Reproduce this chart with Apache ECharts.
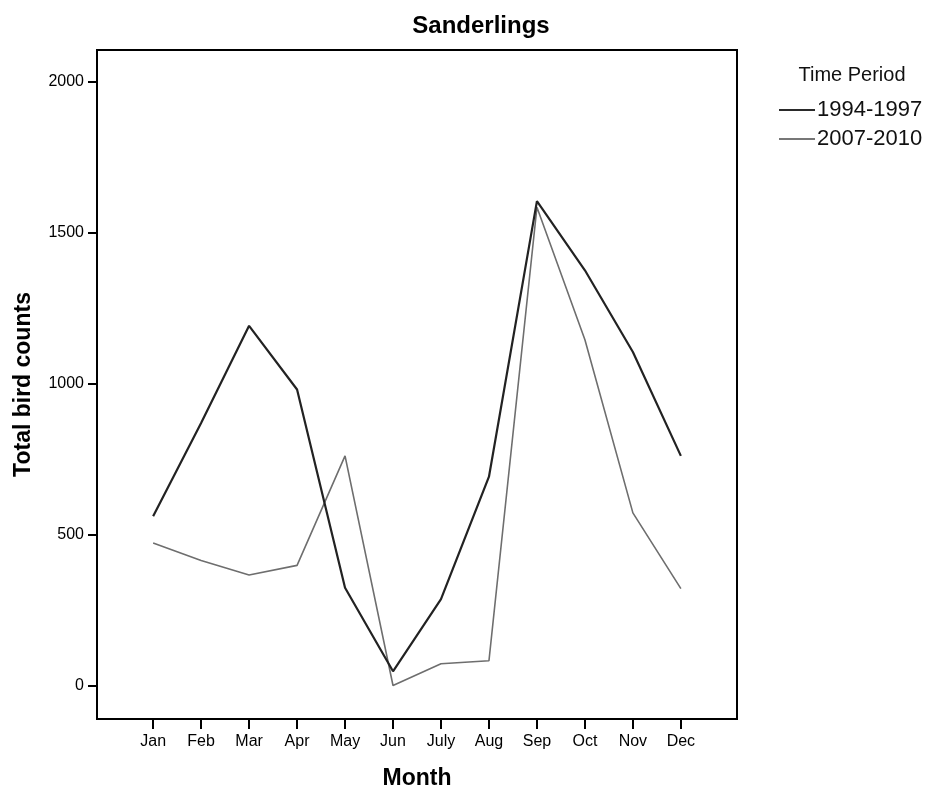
<!DOCTYPE html>
<html>
<head>
<meta charset="utf-8">
<title>Sanderlings</title>
<script src="https://cdn.jsdelivr.net/npm/echarts@6/dist/echarts.min.js"></script>
<style>
  html, body { margin: 0; padding: 0; background: #fff; }
  #chart { width: 930px; height: 795px; }
</style>
</head>
<body>
<div id="chart"></div>
<script>
// Monthly sanderling totals for two survey periods
const months = ['Jan', 'Feb', 'Mar', 'Apr', 'May', 'Jun', 'July', 'Aug', 'Sep', 'Oct', 'Nov', 'Dec'];
const period1Name = '1994-1997';
const period2Name = '2007-2010';
const period1Counts = [561, 870, 1192, 981, 324, 47, 286, 692, 1605, 1376, 1105, 761];
const period2Counts = [472, 414, 366, 398, 761, 0, 72, 82, 1585, 1146, 572, 321];
const yTicks = [0, 500, 1000, 1500, 2000];

const FONT = '"Liberation Sans", Arial, sans-serif';

const toPoints = vals => vals.map((v, i) => [i, v]);
const monthIndex = months.map((_, i) => i);

const chart = echarts.init(document.getElementById('chart'), null, { renderer: 'canvas' });

chart.setOption({
  backgroundColor: '#ffffff',
  animation: false,
  title: [
    {
      text: 'Sanderlings',
      left: 476, top: 9, textAlign: 'center',
      textStyle: { fontFamily: FONT, fontSize: 24, fontWeight: 'bold', color: '#000' }
    },
    {
      text: 'Time Period',
      left: 847, top: 60, textAlign: 'center',
      textStyle: { fontFamily: FONT, fontSize: 20, fontWeight: 'normal', color: '#111' }
    }
  ],
  legend: {
    orient: 'vertical',
    left: 774, top: 94,
    itemWidth: 36, itemHeight: 2, itemGap: 7,
    icon: 'rect',
    textStyle: { fontFamily: FONT, fontSize: 22, color: '#111', padding: [0, 0, 0, -3] },
    data: [
      { name: period1Name, itemStyle: { color: '#2a2a2a' } },
      { name: period2Name, itemStyle: { color: '#777' } }
    ]
  },
  grid: {
    left: 97, right: 193, top: 50, bottom: 70.5,
    show: true, borderColor: '#000', borderWidth: 2, backgroundColor: '#fff'
  },
  xAxis: {
    type: 'value',
    min: -1.17, max: 12.17,
    name: 'Month',
    nameLocation: 'middle',
    nameGap: 48,
    nameTextStyle: { fontFamily: FONT, fontSize: 23, fontWeight: 'bold', color: '#000' },
    axisLine: { show: true, onZero: false, lineStyle: { color: '#000', width: 2 } },
    axisTick: {
      show: true, inside: false, length: 10, customValues: monthIndex,
      lineStyle: { color: '#000', width: 2 }
    },
    axisLabel: {
      customValues: monthIndex,
      margin: 15,
      fontFamily: FONT, fontSize: 16, color: '#000',
      formatter: v => months[Math.round(v)] || ''
    },
    splitLine: { show: false }
  },
  yAxis: {
    type: 'value',
    min: -111, max: 2106,
    name: 'Total bird counts',
    nameLocation: 'middle',
    nameGap: 62,
    nameRotate: 90,
    nameTextStyle: { fontFamily: FONT, fontSize: 23, fontWeight: 'bold', color: '#000' },
    axisLine: { show: true, onZero: false, lineStyle: { color: '#000', width: 2 } },
    axisTick: {
      show: true, inside: false, length: 9, customValues: yTicks,
      lineStyle: { color: '#000', width: 2 }
    },
    axisLabel: {
      customValues: yTicks,
      margin: 13,
      fontFamily: FONT, fontSize: 16, color: '#000',
      formatter: v => String(v)
    },
    splitLine: { show: false }
  },
  series: [
    {
      name: period1Name,
      type: 'line',
      data: toPoints(period1Counts),
      showSymbol: false,
      symbol: 'none',
      lineStyle: { color: '#222', width: 2.2 },
      itemStyle: { color: '#2a2a2a' },
      z: 3
    },
    {
      name: period2Name,
      type: 'line',
      data: toPoints(period2Counts),
      showSymbol: false,
      symbol: 'none',
      lineStyle: { color: '#6e6e6e', width: 1.6 },
      itemStyle: { color: '#777' },
      z: 2
    }
  ]
});
</script>
</body>
</html>
